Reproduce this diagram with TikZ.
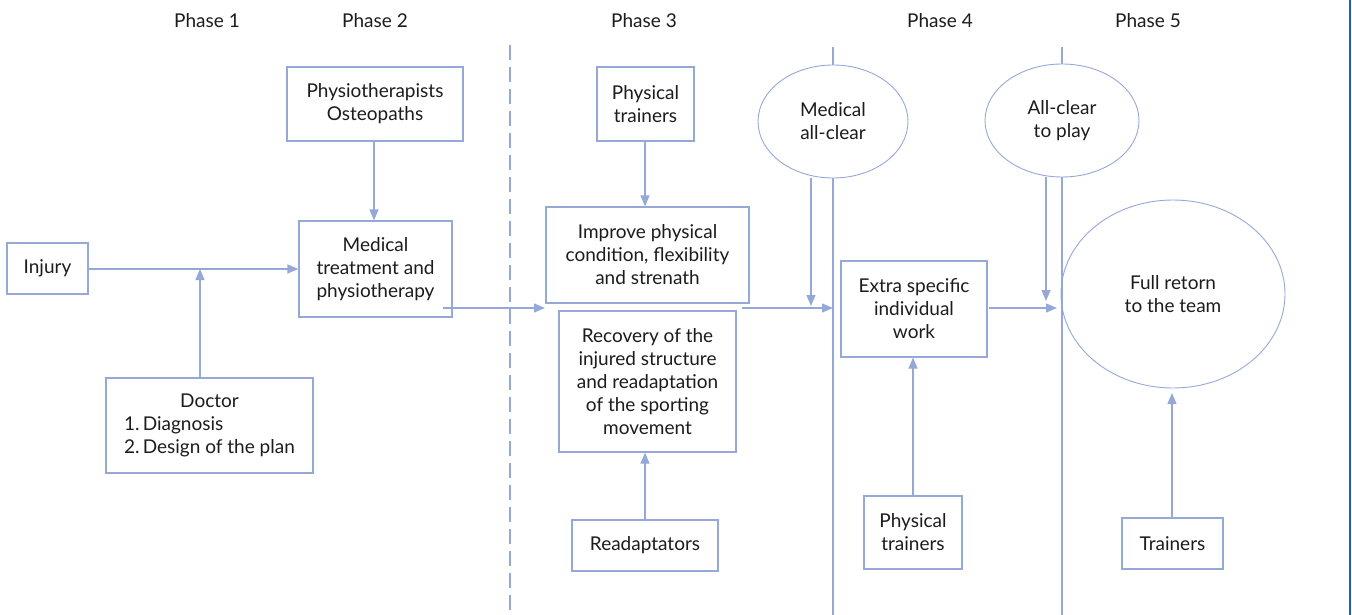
\documentclass[tikz,border=0pt]{standalone}
\usepackage{fontspec}
\setmainfont{Lato}
\usetikzlibrary{arrows.meta,shapes.geometric}
\definecolor{lav}{RGB}{150,168,216}
\definecolor{txt}{RGB}{28,28,28}
\definecolor{edgeblue}{RGB}{30,95,180}
\begin{document}
\begin{tikzpicture}[x=1pt,y=-1pt,
  font=\fontsize{19}{23}\selectfont, text=txt,
  box/.style={draw=lav,line width=1.2pt,fill=white,inner sep=0pt,align=center},
  oval/.style={ellipse,draw=lav,line width=0.9pt,fill=white,inner sep=0pt,align=center},
  arr/.style={draw=lav,line width=1.2pt,-{Triangle[length=11pt,width=9pt]}},
  ln/.style={draw=lav,line width=1.2pt},
  phase/.style={inner sep=0pt}]
\fill[white] (0,0) rectangle (1352,615);
\useasboundingbox (0,0) rectangle (1352,615);
% phase labels
\node[phase] (ph1) at (207,21) {Phase 1};
\node[phase] (ph2) at (375,21) {Phase 2};
\node[phase] (ph3) at (644,21) {Phase 3};
\node[phase] (ph4) at (940,21) {Phase 4};
\node[phase] (ph5) at (1148,21) {Phase 5};
% dashed separator
\coordinate (d1) at (510,45);
\coordinate (d2) at (510,615);
\draw[ln,dash pattern=on 15pt off 7pt] (d1) -- (d2);
% right edge line
\coordinate (e1) at (1350,0);
\coordinate (e2) at (1350,615);
\draw[edgeblue,line width=2pt] (e1) -- (e2);
% boxes
\node[box,minimum width=81pt,minimum height=51pt] (inj) at (47.5,268.5) {Injury};
\node[box,minimum width=207pt,minimum height=95pt] (doc) at (209.5,425.5)
  {\begin{tabular}{@{}l@{}}\multicolumn{1}{@{}c@{}}{Doctor}\\ 1.\,Diagnosis\\ 2.\,Design of the plan\end{tabular}};
\node[box,minimum width=176pt,minimum height=74pt] (phy) at (375,104) {Physiotherapists\\Osteopaths};
\node[box,minimum width=153pt,minimum height=96pt] (med) at (375.5,269) {Medical\\treatment and\\physiotherapy};
\node[box,minimum width=97pt,minimum height=74pt] (pt1) at (645.5,104) {Physical\\trainers};
\node[box,minimum width=203pt,minimum height=96pt] (imp) at (647.5,255) {Improve physical\\condition, flexibility\\and strenath};
\node[box,minimum width=177pt,minimum height=141pt] (rec) at (647.5,381.5) {Recovery of the\\injured structure\\and readaptation\\of the sporting\\movement};
\node[box,minimum width=146pt,minimum height=51pt] (rea) at (645,545.5) {Readaptators};
\node[box,minimum width=146pt,minimum height=96pt] (ext) at (914,309) {Extra specific\\individual\\work};
\node[box,minimum width=98pt,minimum height=73pt] (pt2) at (913,532.5) {Physical\\trainers};
\node[box,minimum width=101pt,minimum height=51pt] (trn) at (1172.5,543.5) {Trainers};
% ellipses
\node[oval,minimum width=150pt,minimum height=113pt] (mac) at (833,121.5) {Medical\\all-clear};
\node[oval,minimum width=154pt,minimum height=113pt] (acp) at (1062,120.5) {All-clear\\to play};
\node[oval,minimum width=224pt,minimum height=188pt] (full) at (1173,294) {Full retorn\\to the team};
% vertical phase lines
\coordinate (v1t) at (833,47);
\coordinate (v1b) at (833,615);
\coordinate (v2t) at (1062,47);
\coordinate (v2b) at (1062,615);
\draw[ln] (mac.north) -- (v1t);
\draw[ln] (mac.south) -- (v1b);
\draw[ln] (acp.north) -- (v2t);
\draw[ln] (acp.south) -- (v2b);
% connectors
\coordinate (j1) at (200,269);
\draw[arr] (inj.east |- j1) -- (med.west |- j1);
\draw[arr] (j1 |- doc.north) -- (j1);
\draw[arr] (phy.south -| 374,0) -- (med.north -| 374,0);
\coordinate (m3s) at (443,308);
\coordinate (m3e) at (545,308);
\draw[arr] (m3s) -- (m3e);
\draw[arr] (pt1.south -| 645,0) -- (imp.north -| 645,0);
\draw[arr] (rea.north) -- (rec.south -| rea.north);
\coordinate (p4s) at (742,308);
\coordinate (p4e) at (833,308);
\draw[arr] (p4s) -- (p4e);
\coordinate (ma1) at (811,178);
\coordinate (ma2) at (811,306);
\draw[arr] (ma1) -- (ma2);
\coordinate (p5s) at (989,308);
\coordinate (p5e) at (1057,308);
\draw[arr] (p5s) -- (p5e);
\coordinate (ac1) at (1046,177);
\coordinate (ac2) at (1046,301);
\draw[arr] (ac1) -- (ac2);
\draw[arr] (pt2.north) -- (ext.south -| pt2.north);
\coordinate (fr) at (1172,393);
\draw[arr] (trn.north -| fr) -- (fr);
\end{tikzpicture}
\end{document}
